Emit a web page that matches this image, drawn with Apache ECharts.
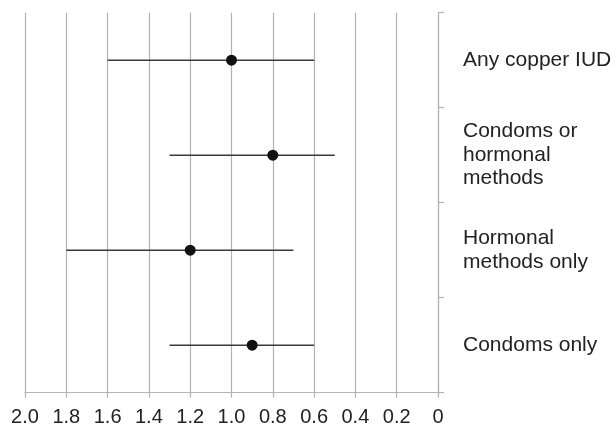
<!DOCTYPE html>
<html>
<head>
<meta charset="utf-8">
<script src="https://cdn.jsdelivr.net/npm/echarts@6/dist/echarts.min.js"></script>
<style>
html,body{margin:0;padding:0;background:#fff;}
#chart{width:616px;height:428px;}
</style>
</head>
<body>
<div id="chart"></div>
<script>
var categories = ['Any copper IUD', 'Condoms or\nhormonal\nmethods', 'Hormonal\nmethods only', 'Condoms only'];
var estimates = [1.0, 0.8, 1.2, 0.9];
var lowerCI = [0.6, 0.5, 0.7, 0.6];
var upperCI = [1.6, 1.3, 1.8, 1.3];
var xTicks = { min: 0, max: 2, interval: 0.2 };

var chart = echarts.init(document.getElementById('chart'), null, { renderer: 'canvas' });

var ciData = categories.map(function (c, i) { return [lowerCI[i], upperCI[i], i]; });
var pointData = categories.map(function (c, i) { return [estimates[i], i]; });

var font = '"Liberation Sans", Arial, Helvetica, sans-serif';

chart.setOption({
  animation: false,
  backgroundColor: '#ffffff',
  grid: { left: 25, right: 178, top: 12.7, bottom: 35.3, containLabel: false },
  xAxis: {
    type: 'value',
    inverse: true,
    min: xTicks.min,
    max: xTicks.max,
    interval: xTicks.interval,
    axisLine: { show: true, lineStyle: { color: '#b3b3b3', width: 1.2 } },
    axisTick: { show: true, length: 5, lineStyle: { color: '#b3b3b3', width: 1.2 } },
    splitLine: { show: true, lineStyle: { color: '#b3b3b3', width: 1.2 } },
    axisLabel: {
      margin: 15,
      fontSize: 20,
      fontFamily: font,
      color: '#222',
      formatter: function (v) { return v === 0 ? '0' : v.toFixed(1); }
    }
  },
  yAxis: {
    type: 'category',
    position: 'right',
    inverse: true,
    data: categories,
    boundaryGap: true,
    axisLine: { show: true, lineStyle: { color: '#b3b3b3', width: 1.2 } },
    axisTick: { show: true, inside: false, length: 6, lineStyle: { color: '#b3b3b3', width: 1.2 } },
    splitLine: { show: false },
    axisLabel: {
      margin: 25,
      fontSize: 21,
      lineHeight: 23.5,
      fontFamily: font,
      color: '#222',
      align: 'left'
    }
  },
  series: [
    {
      type: 'custom',
      data: ciData,
      encode: { x: [0, 1], y: 2 },
      renderItem: function (params, api) {
        var p1 = api.coord([api.value(0), api.value(2)]);
        var p2 = api.coord([api.value(1), api.value(2)]);
        return {
          type: 'line',
          shape: { x1: p1[0], y1: p1[1], x2: p2[0], y2: p2[1] },
          style: { stroke: '#3a3a3a', lineWidth: 1.6 }
        };
      },
      z: 3
    },
    {
      type: 'scatter',
      data: pointData,
      symbol: 'circle',
      symbolSize: 11,
      itemStyle: { color: '#111111', opacity: 1 },
      z: 4
    }
  ]
});
</script>
</body>
</html>
